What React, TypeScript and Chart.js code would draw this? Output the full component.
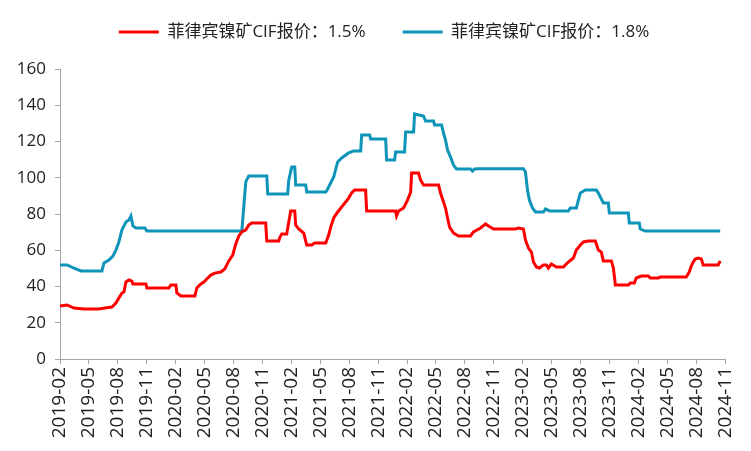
import React, { useEffect, useRef } from 'react';
import { Chart, registerables } from 'chart.js';

Chart.register(...registerables);

// x-axis tick labels, one every 3 months starting 2019-02
const tickLabels = [
  '2019-02', '2019-05', '2019-08', '2019-11',
  '2020-02', '2020-05', '2020-08', '2020-11',
  '2021-02', '2021-05', '2021-08', '2021-11',
  '2022-02', '2022-05', '2022-08', '2022-11',
  '2023-02', '2023-05', '2023-08', '2023-11',
  '2024-02', '2024-05', '2024-08', '2024-11',
];

const seriesNames = ['菲律宾镍矿CIF报价：1.5%', '菲律宾镍矿CIF报价：1.8%'];

// months elapsed since 2019-02 (fractional) and price values
const redMonths = [
  0, 0.73, 1.45, 2.49, 4.04, 4.66, 5.39, 5.8, 6.11, 6.42, 6.63, 6.84, 7.15, 7.46, 7.56, 8.91, 9.01,
  11.29, 11.5, 12.02, 12.12, 12.54, 13.99, 14.19, 14.61, 14.92, 15.33, 15.64, 16.06, 16.68, 17.09,
  17.51, 17.92, 18.23, 18.55, 18.86, 19.27, 19.58, 19.89, 21.34, 21.45, 22.69, 22.79, 23.0, 23.52,
  23.73, 23.93, 24.35, 24.45, 24.76, 25.28, 25.59, 26.11, 26.42, 27.56, 27.87, 28.08, 28.39, 28.8,
  29.22, 29.63, 29.94, 30.25, 30.56, 31.7, 31.81, 34.81, 34.91, 35.12, 35.64, 36.05, 36.37, 36.47,
  37.19, 37.4, 37.71, 39.27, 39.47, 39.78, 39.99, 40.2, 40.41, 40.82, 41.34, 42.58, 42.89, 43.62,
  44.14, 44.45, 44.97, 47.24, 47.55, 48.07, 48.28, 48.59, 48.9, 49.11, 49.42, 49.73, 50.15, 50.46,
  50.66, 50.97, 51.49, 52.22, 52.73, 53.25, 53.56, 53.98, 54.29, 54.81, 55.53, 55.84, 56.15, 56.36,
  57.19, 57.4, 57.61, 58.95, 59.16, 59.57, 59.78, 60.3, 61.02, 61.23, 62.06, 62.27, 64.96, 65.27,
  65.48, 65.69, 65.89, 66.2, 66.52, 66.72, 68.28, 68.48,
];
const redValues = [
  29.2, 29.8, 28.1, 27.6, 27.6, 28.1, 28.7, 30.9, 33.7, 36.4, 37.0, 42.5, 43.6, 43.0, 41.4, 41.4, 39.2,
  39.2, 40.8, 40.8, 36.4, 34.8, 34.8, 39.2, 41.4, 42.5, 44.7, 46.3, 47.4, 48.0, 49.7,
  54.1, 57.4, 63.4, 67.9, 70.1, 71.2, 73.9, 75.0, 75.0, 65.1, 65.1, 66.8, 69.0, 69.0,
  75.6, 81.7, 81.7, 73.9, 71.7, 69.5, 62.9, 62.9, 64.0, 64.0, 68.4, 72.8, 77.8, 81.1,
  83.9, 86.6, 88.8, 91.6, 93.2, 93.2, 81.7, 81.7, 78.9, 81.7, 83.3, 87.7, 92.1, 102.6,
  102.6, 98.8, 96.0, 96.0, 91.6, 86.6, 83.3, 77.8, 72.8, 69.5, 67.9, 67.9, 70.1, 72.3,
  74.5, 73.4, 71.7, 71.7, 72.3, 71.7, 65.7, 61.2, 59.0, 53.5, 50.8, 50.2, 51.9, 51.9,
  50.2, 52.4, 50.8, 50.8, 53.5, 55.7, 60.1, 62.9, 64.6, 65.1, 65.1, 60.1, 59.0, 54.1,
  54.1, 50.2, 40.8, 40.8, 41.9, 41.9, 44.7, 45.8, 45.8, 44.7, 44.7, 45.2, 45.2, 48.0,
  51.3, 53.5, 55.2, 55.7, 55.2, 51.9, 51.9, 54.1,
];

const blueMonths = [
  0, 0.73, 1.45, 2.18, 4.35, 4.56, 5.08, 5.49, 5.8, 6.11, 6.42, 6.84, 7.15, 7.36, 7.56, 7.87, 8.81,
  9.01, 18.86, 19.27, 19.58, 21.45, 21.55, 23.62, 23.73, 24.04, 24.35, 24.45, 25.49, 25.59, 27.56,
  27.66, 28.39, 28.8, 29.22, 29.94, 30.46, 31.19, 31.29, 32.12, 32.22, 33.78, 33.88, 34.71, 34.81,
  35.74, 35.85, 36.68, 36.78, 37.71, 37.92, 38.75, 38.85, 39.58, 39.78, 39.99, 40.2, 40.51, 40.82,
  41.13, 42.58, 42.79, 43.0, 43.41, 48.07, 48.28, 48.49, 48.69, 49.01, 49.32, 50.15, 50.36, 50.77,
  52.73, 52.94, 53.56, 53.77, 53.98, 54.5, 55.64, 55.84, 56.36, 56.88, 56.98, 58.95, 59.05, 60.09,
  60.19, 60.71, 68.48,
];
const blueValues = [
  51.9, 51.9, 50.2, 48.6, 48.6, 53.0, 54.6, 56.8, 60.1, 64.6, 71.2, 75.6, 76.7, 78.9, 73.4, 72.3, 72.3,
  70.6, 70.6, 97.7, 101.0, 101.0, 91.0, 91.0, 98.8, 105.9, 105.9, 96.0, 96.0, 92.1, 92.1,
  92.7, 100.4, 108.7, 110.9, 113.7, 114.8, 114.8, 123.6, 123.6, 121.4, 121.4, 109.8, 109.8, 114.2,
  114.2, 125.2, 125.2, 135.2, 134.1, 131.3, 131.3, 129.1, 129.1, 124.7, 120.8, 115.3, 111.4, 107.0,
  104.8, 104.8, 103.7, 104.8, 105.0, 105.0, 103.2, 93.2, 87.7, 83.3, 81.1, 81.1, 82.8, 81.7,
  81.7, 83.3, 83.3, 87.7, 91.6, 93.2, 93.2, 91.6, 86.1, 86.1, 80.6, 80.6, 75.0, 75.0,
  71.7, 70.6, 70.6,
];

const yTicks = [0, 20, 40, 60, 80, 100, 120, 140, 160];

const RED = '#FF0000';
const BLUE = '#0E93B9';
const FONT = '"Open Sans", "Noto Sans CJK SC", sans-serif';

export default function App() {
  const canvasRef = useRef<HTMLCanvasElement | null>(null);

  useEffect(() => {
    const canvas = canvasRef.current;
    if (!canvas) return;
    const toPoints = (xs: number[], ys: number[]) => xs.map((x, i) => ({ x, y: ys[i] }));

    const chart = new Chart(canvas, {
      type: 'line',
      data: {
        datasets: [
          {
            label: seriesNames[0],
            data: toPoints(redMonths, redValues),
            borderColor: RED,
            backgroundColor: RED,
            borderWidth: 3,
            pointRadius: 0,
            tension: 0,
          },
          {
            label: seriesNames[1],
            data: toPoints(blueMonths, blueValues),
            borderColor: BLUE,
            backgroundColor: BLUE,
            borderWidth: 3,
            pointRadius: 0,
            tension: 0,
          },
        ],
      },
      options: {
        animation: false,
        responsive: true,
        maintainAspectRatio: false,
        layout: { padding: { top: 3.5, right: 23, bottom: 0, left: 0 } },
        plugins: {
          tooltip: { enabled: false },
          title: {
            display: true,
            text: '',
            weight: 0,
            position: 'top',
            font: { size: 1 },
            padding: { top: 17.3, bottom: 0 },
          } as any,
          legend: {
            display: true,
            position: 'top',
            fullSize: false,
            labels: {
              font: { family: FONT, size: 17 },
              color: '#222',
              boxWidth: 40,
              boxHeight: 3,
              padding: 20,
              generateLabels: (c: any) => {
                const items = Chart.defaults.plugins.legend.labels.generateLabels(c);
                return items.map((it: any) => ({
                  ...it,
                  text: it.text + '\u2003',
                  lineWidth: 0,
                  fillStyle: it.strokeStyle,
                }));
              },
            },
          },
        },
        scales: {
          x: {
            type: 'linear',
            min: 0,
            max: 69,
            afterFit: (s: any) => { s.height = 92; },
            border: { display: true, color: '#a6a6a6', width: 1 },
            grid: { display: true, drawOnChartArea: false, drawTicks: true, tickLength: 5, color: '#a6a6a6' },
            ticks: {
              stepSize: 3,
              autoSkip: false,
              minRotation: 90,
              maxRotation: 90,
              padding: 3,
              color: '#222',
              font: { family: FONT, size: 19 },
              callback: (v: any) => tickLabels[Math.round(Number(v) / 3)] ?? '',
            },
          },
          y: {
            type: 'linear',
            min: 0,
            max: 160,
            afterFit: (s: any) => { s.width = 60; },
            afterBuildTicks: (s: any) => { s.ticks = yTicks.map((v) => ({ value: v })); },
            border: { display: true, color: '#a6a6a6', width: 1 },
            grid: { display: true, drawOnChartArea: false, drawTicks: true, tickLength: 5, color: '#a6a6a6' },
            ticks: {
              padding: 9,
              color: '#222',
              font: { family: FONT, size: 17 },
            },
          },
        },
      },
    });
    return () => chart.destroy();
  }, []);

  return (
    <div style={{ position: 'absolute', left: 0, top: 0, width: 751, height: 451 }}>
      <canvas ref={canvasRef} />
    </div>
  );
}
